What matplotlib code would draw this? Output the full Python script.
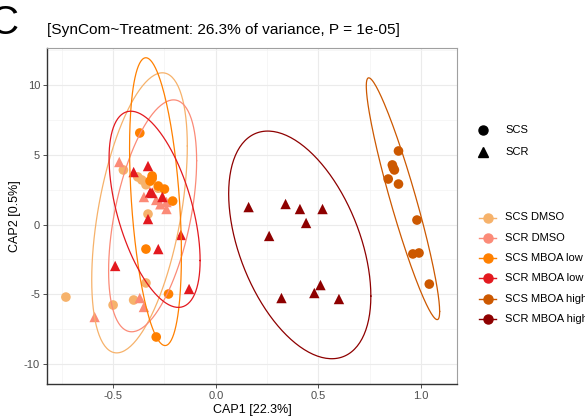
import numpy as np
import matplotlib
matplotlib.use("Agg")
import matplotlib.pyplot as plt
from matplotlib.lines import Line2D
from matplotlib.ticker import MultipleLocator

plt.rcParams['font.family'] = ['Liberation Sans', 'DejaVu Sans']

# ---- data: CAP1 / CAP2 scores per group ----
groups = ["SCS DMSO", "SCR DMSO", "SCS MBOA low", "SCR MBOA low",
          "SCS MBOA high", "SCR MBOA high"]
colors = ["#F6B26B", "#FB8B78", "#FF8000", "#E3191F", "#CC5800", "#8E0000"]

scs_dmso_x = [-0.45, -0.38, -0.36, -0.34, -0.32, -0.28, -0.33, -0.34, -0.73, -0.50, -0.40]
scs_dmso_y = [3.91, 3.41, 3.19, 2.85, 3.10, 2.60, 0.75, -4.19, -5.20, -5.77, -5.41]

scr_dmso_x = [-0.47, -0.35, -0.29, -0.27, -0.31, -0.26, -0.24, -0.24, -0.37, -0.35, -0.59]
scr_dmso_y = [4.48, 1.97, 1.76, 1.45, 2.30, 2.00, 1.61, 1.11, -5.27, -5.91, -6.63]

scs_low_x = [-0.37, -0.32, -0.31, -0.31, -0.28, -0.25, -0.21, -0.34, -0.23, -0.29]
scs_low_y = [6.56, 3.12, 3.48, 3.30, 2.76, 2.54, 1.68, -1.76, -4.98, -8.06]

scr_low_x = [-0.40, -0.33, -0.31, -0.32, -0.26, -0.33, -0.17, -0.28, -0.49, -0.13]
scr_low_y = [3.76, 4.19, 2.26, 2.30, 1.97, 0.39, -0.75, -1.76, -2.97, -4.62]

scs_high_x = [0.89, 0.86, 0.865, 0.87, 0.84, 0.89, 0.98, 0.96, 0.99, 1.04]
scs_high_y = [5.27, 4.27, 4.05, 3.91, 3.26, 2.90, 0.32, -2.11, -2.04, -4.27]

scr_high_x = [0.16, 0.34, 0.41, 0.52, 0.44, 0.26, 0.51, 0.48, 0.32, 0.60]
scr_high_y = [1.25, 1.47, 1.11, 1.11, 0.11, -0.82, -4.34, -4.91, -5.27, -5.34]

group_x = [scs_dmso_x, scr_dmso_x, scs_low_x, scr_low_x, scs_high_x, scr_high_x]
group_y = [scs_dmso_y, scr_dmso_y, scs_low_y, scr_low_y, scs_high_y, scr_high_y]
markers = ["o", "^", "o", "^", "o", "^"]

title = "[SynCom~Treatment: 26.3% of variance, P = 1e-05]"
xlabel = "CAP1 [22.3%]"
ylabel = "CAP2 [0.5%]"


def cov_trob(x, nu=5, maxit=25, tol=0.01):
    """Robust multivariate-t location/scatter estimate (as in MASS::cov.trob)."""
    n, p = x.shape
    loc = x.mean(axis=0)
    w = np.ones(n)
    for _ in range(maxit):
        w0 = w
        X = x - loc
        _, d, vt = np.linalg.svd(np.sqrt(w / w.sum())[:, None] * X, full_matrices=False)
        wX = X @ vt.T @ np.diag(1.0 / d)
        Q = (wX ** 2).sum(axis=1)
        w = (nu + p) / (nu + Q)
        loc = (w[:, None] * x).sum(axis=0) / w.sum()
        if np.all(np.abs(w - w0) < tol):
            break
    X = x - loc
    cov = (np.sqrt(w)[:, None] * X).T @ (np.sqrt(w)[:, None] * X) / n
    return loc, cov


def t_ellipse(xs, ys, level=0.95, segments=201):
    data = np.column_stack([xs, ys])
    center, shape = cov_trob(data)
    dfd = len(xs) - 1
    # F(2, dfd) quantile in closed form
    fq = dfd / 2.0 * ((1 - level) ** (-2.0 / dfd) - 1)
    radius = np.sqrt(2 * fq)
    chol = np.linalg.cholesky(shape).T
    ang = np.linspace(0, 2 * np.pi, segments)
    circ = np.column_stack([np.cos(ang), np.sin(ang)])
    return center + radius * circ @ chol


W, H = 585, 416
fig = plt.figure(figsize=(W / 100, H / 100), dpi=100)
ax = fig.add_axes([47 / W, 32 / H, 410 / W, 336 / H])

for xs, ys, c, m in zip(group_x, group_y, colors, markers):
    ax.scatter(xs, ys, s=48 if m == "o" else 56, marker=m, color=c,
               edgecolors="none", zorder=3)
for xs, ys, c in zip(group_x, group_y, colors):
    e = t_ellipse(xs, ys)
    ax.plot(e[:, 0], e[:, 1], color=c, lw=0.9, zorder=4, clip_on=True)

ax.set_xlim(-0.822, 1.175)
ax.set_ylim(-11.43, 12.65)
ax.xaxis.set_major_locator(MultipleLocator(0.5))
ax.xaxis.set_minor_locator(MultipleLocator(0.25))
ax.yaxis.set_major_locator(MultipleLocator(5))
ax.yaxis.set_minor_locator(MultipleLocator(2.5))
ax.set_xticks([-0.5, 0.0, 0.5, 1.0])
ax.set_xticklabels(["-0.5", "0.0", "0.5", "1.0"])
ax.set_yticks([-10, -5, 0, 5, 10])
ax.set_yticklabels(["-10", "-5", "0", "5", "10"])
ax.grid(which="major", color="#EBEBEB", lw=0.8, zorder=0)
ax.grid(which="minor", color="#F3F3F3", lw=0.5, zorder=0)
ax.set_axisbelow(True)
ax.tick_params(which="major", length=3, width=0.6, color="#333333",
               labelsize=8, labelcolor="#4D4D4D", pad=2)
ax.tick_params(which="minor", length=0)
for side in ["left", "bottom"]:
    ax.spines[side].set_color("#333333")
    ax.spines[side].set_linewidth(1.0)
for side in ["top", "right"]:
    ax.spines[side].set_color("#A0A0A0")
    ax.spines[side].set_linewidth(0.8)

ax.set_xlabel(xlabel, fontsize=9, labelpad=2)
ax.set_ylabel(ylabel, fontsize=9, labelpad=2)
fig.text(47 / W, 1 - 30 / H, title, fontsize=11.1, va="center", ha="left")
fig.text(-10 / W, 1 - 34 / H, "C", fontsize=29, va="baseline", ha="left")

# shape legend
for i, (lab, m) in enumerate(zip(["SCS", "SCR"], ["o", "^"])):
    yy = 1 - (130 + 22 * i) / H
    fig.add_artist(Line2D([483 / W], [yy], marker=m, color="black", ls="none",
                          markersize=6.5 if m == "o" else 7))
    fig.text(505 / W, yy, lab, fontsize=8, va="center", ha="left")

# colour legend
for i, (lab, c) in enumerate(zip(groups, colors)):
    yy = 1 - (217.5 + 20.3 * i) / H
    fig.add_artist(Line2D([479 / W, 496 / W], [yy, yy], color=c, lw=1.0))
    fig.add_artist(Line2D([487.5 / W], [yy], marker="o", color=c, ls="none",
                          markersize=6.5))
    fig.text(505 / W, yy, lab, fontsize=8, va="center", ha="left")

fig.savefig("out.png", dpi=100)
